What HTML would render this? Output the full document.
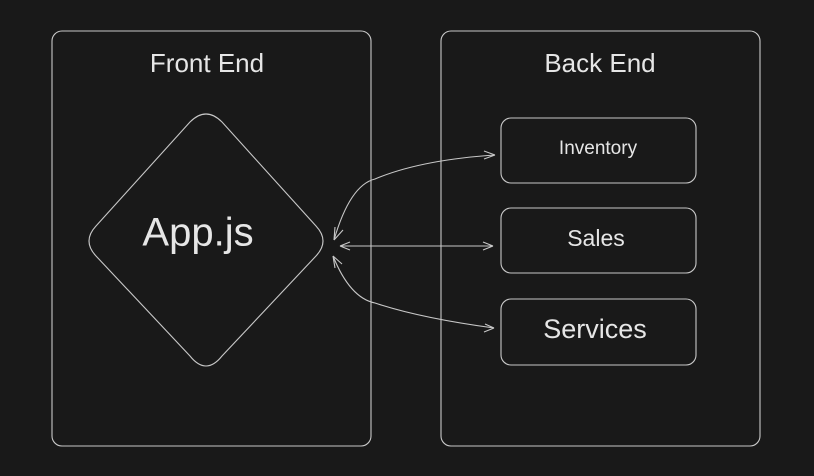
<!DOCTYPE html>
<html><head><style>
html,body{margin:0;padding:0;background:#191919;}
svg{display:block}
text{font-family:"Liberation Sans",sans-serif;fill:#e6e6e6;text-anchor:middle;dominant-baseline:middle}
</style></head><body>
<svg width="814" height="476" viewBox="0 0 814 476" xmlns="http://www.w3.org/2000/svg">
<rect width="814" height="476" fill="#191919"/>
<g fill="none" stroke="#c8c8c8" stroke-width="1.1">
<rect x="52" y="31" width="319" height="415" rx="10"/>
<rect x="441" y="31" width="319" height="415" rx="10"/>
<rect x="501" y="118" width="195" height="65" rx="10"/>
<rect x="501" y="208" width="195" height="65" rx="10"/>
<rect x="501" y="299" width="195" height="66" rx="10"/>
<path d="M190 122 Q206 106 222 122 L316 226 Q330 241 316 256 L222 356 Q206 376 190 356 L96 256 Q82 241 96 226 Z"/>
<path d="M334 240 Q350 185 375 179 Q420 160 495 155"/>
<path d="M495 155 L484 151 M495 155 L484 159"/>
<path d="M334 240 L335 227 M334 240 L343 230"/>
<path d="M340 246 L493 246"/>
<path d="M340 246 L350 242 M340 246 L350 250"/>
<path d="M493 246 L483 242 M493 246 L483 250"/>
<path d="M333 256 Q350 298 375 303 Q420 318 494 328"/>
<path d="M494 328 L485 324 M494 328 L484 332"/>
<path d="M333 256 L335 268 M333 256 L342 264"/>
</g>
<text x="207" y="65" font-size="26">Front End</text>
<text x="600" y="65" font-size="26">Back End</text>
<text x="198" y="235" font-size="40">App.js</text>
<text x="598" y="149" font-size="19">Inventory</text>
<text x="596" y="240" font-size="23">Sales</text>
<text x="595" y="331" font-size="27">Services</text>
</svg>
</body></html>
